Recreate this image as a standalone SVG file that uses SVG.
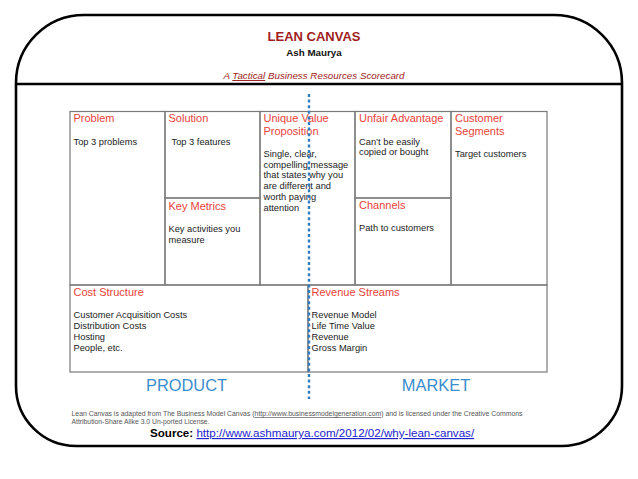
<svg xmlns="http://www.w3.org/2000/svg" width="638" height="479" viewBox="0 0 638 479">
<style>
.frame{fill:none;stroke:#000;stroke-width:2.6}
.cell{fill:none;stroke:#7a7a7a;stroke-width:1.2}
.t{font-family:"Liberation Sans",Arial,sans-serif;font-size:11px;fill:#e8423a}
.b{font-family:"Liberation Sans",Arial,sans-serif;font-size:9.3px;fill:#222}
.big{font-family:"Liberation Sans",Arial,sans-serif;font-size:16.4px;fill:#3a8dcc}
.foot{font-family:"Liberation Sans",Arial,sans-serif;font-size:6.8px;fill:#555}
</style>
<rect width="638" height="479" fill="#fff"/>
<g id="frame">
<path class="frame" d="M84 15 H554 A68 68 0 0 1 622 83 V386 A60 60 0 0 1 562 446 H76 A60 60 0 0 1 16 386 V83 A68 68 0 0 1 84 15 Z"/>
<line x1="16" y1="84" x2="622" y2="84" stroke="#000" stroke-width="2.4"/>
</g>
<g id="header" text-anchor="middle">
<text x="314" y="41" font-family="'Liberation Sans',Arial,sans-serif" font-size="13" font-weight="bold" fill="#a11d1d">LEAN CANVAS</text>
<text x="314" y="55.5" font-family="'Liberation Sans',Arial,sans-serif" font-size="9.8" font-weight="bold" fill="#111">Ash Maurya</text>
<text x="314" y="79" font-family="'Liberation Sans',Arial,sans-serif" font-size="9.8" font-style="italic" fill="#a11d1d">A <tspan text-decoration="underline">Tactical</tspan> Business Resources Scorecard</text>
</g>
<g id="problem">
<rect class="cell" x="70" y="111.5" width="95" height="173.5"/>
<text class="t" x="73.5" y="121.7">Problem</text>
<text class="b" x="73.5" y="144.5">Top 3 problems</text>
</g>
<g id="solution">
<rect class="cell" x="165" y="111.5" width="95" height="86.5"/>
<text class="t" x="168.5" y="121.7">Solution</text>
<text class="b" x="171.5" y="144.5">Top 3 features</text>
</g>
<g id="key-metrics">
<rect class="cell" x="165" y="198" width="95" height="87"/>
<text class="t" x="168.5" y="210" font-size="12">Key Metrics</text>
<text class="b" x="168.5" y="231.7">Key activities you</text>
<text class="b" x="168.5" y="242.7">measure</text>
</g>
<g id="unique-value-proposition">
<rect class="cell" x="260" y="111.5" width="95" height="173.5"/>
<text class="t" x="263.5" y="121.7">Unique Value</text>
<text class="t" x="263.5" y="135">Proposition</text>
<text class="b" x="263.5" y="156.7">Single, clear,</text>
<text class="b" x="263.5" y="167.5">compelling message</text>
<text class="b" x="263.5" y="178.3">that states why you</text>
<text class="b" x="263.5" y="189.1">are different and</text>
<text class="b" x="263.5" y="199.9">worth paying</text>
<text class="b" x="263.5" y="210.7">attention</text>
</g>
<g id="unfair-advantage">
<rect class="cell" x="355" y="111.5" width="96" height="86.5"/>
<text class="t" x="359" y="121.7">Unfair Advantage</text>
<text class="b" x="359" y="144.5">Can’t be easily</text>
<text class="b" x="359" y="155.3">copied or bought</text>
</g>
<g id="channels">
<rect class="cell" x="355" y="198" width="96" height="87"/>
<text class="t" x="359" y="208.5">Channels</text>
<text class="b" x="359" y="230.7">Path to customers</text>
</g>
<g id="customer-segments">
<rect class="cell" x="451" y="111.5" width="96" height="173.5"/>
<text class="t" x="455" y="121.7">Customer</text>
<text class="t" x="455" y="135">Segments</text>
<text class="b" x="455" y="157.3">Target customers</text>
</g>
<g id="cost-structure">
<rect class="cell" x="70" y="285" width="238" height="87"/>
<text class="t" x="73.5" y="295.5">Cost Structure</text>
<text class="b" x="73.5" y="317.5">Customer Acquisition Costs</text>
<text class="b" x="73.5" y="328.5">Distribution Costs</text>
<text class="b" x="73.5" y="339.5">Hosting</text>
<text class="b" x="73.5" y="350.5">People, etc.</text>
</g>
<g id="revenue-streams">
<rect class="cell" x="308" y="285" width="239" height="87"/>
<text class="t" x="311.5" y="295.5">Revenue Streams</text>
<text class="b" x="311.5" y="317.5">Revenue Model</text>
<text class="b" x="311.5" y="328.5">Life Time Value</text>
<text class="b" x="311.5" y="339.5">Revenue</text>
<text class="b" x="311.5" y="350.5">Gross Margin</text>
</g>
<g id="connectors">
<line x1="309" y1="94" x2="309" y2="399" stroke="#2f7dc0" stroke-width="2.4" stroke-dasharray="3 2.6"/>
</g>
<g id="labels" text-anchor="middle">
<text class="big" x="186.5" y="391">PRODUCT</text>
<text class="big" x="436" y="391">MARKET</text>
</g>
<g id="footer">
<text class="foot" x="71.5" y="416" textLength="451" lengthAdjust="spacingAndGlyphs">Lean Canvas is adapted from The Business Model Canvas (<tspan text-decoration="underline">http://www.businessmodelgeneration.com</tspan>) and is licensed under the Creative Commons</text>
<text class="foot" x="71.5" y="423.5" textLength="138" lengthAdjust="spacingAndGlyphs">Attribution-Share Alike 3.0 Un-ported License.</text>
<text x="150" y="437" font-family="'Liberation Sans',Arial,sans-serif" font-size="11.6"><tspan font-weight="bold" fill="#000">Source: </tspan><tspan fill="#2222cc" text-decoration="underline">http://www.ashmaurya.com/2012/02/why-lean-canvas/</tspan></text>
</g>
</svg>
